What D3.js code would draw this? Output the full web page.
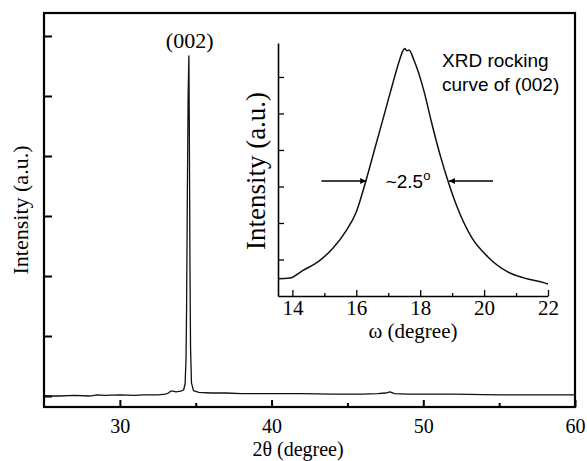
<!DOCTYPE html>
<html>
<head>
<meta charset="utf-8">
<script src="https://cdnjs.cloudflare.com/ajax/libs/d3/7.8.5/d3.min.js"></script>
<style>
    body { margin: 0; background: #fff; }
    svg text { fill: #000; }
</style>
</head>
<body>
<div id="chart"></div>
<script>
/*global d3*/
(function () {
    "use strict";

    var SERIF = "Liberation Serif",
        SANS = "Liberation Sans";

    // main XRD pattern: 2theta (degree), intensity (a.u.)
    var twoTheta = [25, 26, 27, 28, 28.5, 29, 30, 31, 31.5, 32, 32.5, 33, 33.2, 33.35, 33.5, 33.7, 34, 34.2,
        34.3, 34.36, 34.4, 34.45, 34.5, 34.55, 34.58, 34.62, 34.66, 34.72, 34.85, 35.2, 36, 37, 38, 40, 42,
        44, 46, 47, 47.5, 47.8, 48.1, 49, 52, 55, 58, 60];
    var intensity = [0, 0, 0.01, 0, 0.02, 0.01, 0.02, 0.01, 0.02, 0.02, 0.02, 0.03, 0.05, 0.08, 0.08, 0.07, 0.08, 0.1,
        0.2, 0.6, 1.5, 3.4, 5.0, 5.67, 4.4, 2.2, 0.8, 0.22, 0.09, 0.06, 0.05, 0.05, 0.04, 0.04, 0.04,
        0.03, 0.03, 0.04, 0.05, 0.07, 0.04, 0.03, 0.03, 0.02, 0.02, 0.02];
    var xMajor = [30, 40, 50, 60];
    var xMinor = [35, 45, 55];
    var yTicks = [0, 1, 2, 3, 4, 5, 6];

    // inset rocking curve: omega (degree), intensity (a.u.)
    var omega = [13.55, 13.92, 14.33, 14.85, 15.26, 15.69, 16.0, 16.3, 16.6, 16.9, 17.15, 17.35, 17.45,
        17.52, 17.58, 17.65, 17.8, 18.11, 18.36, 18.64, 18.88, 19.19, 19.6, 20.12, 20.74, 21.27, 21.89, 22];
    var rocking = [0.47, 0.49, 0.7, 0.97, 1.3, 1.8, 2.3, 3.15, 4.1, 5.05, 5.85, 6.45, 6.7,
        6.78, 6.72, 6.74, 6.47, 5.64, 4.74, 3.81, 3.12, 2.36, 1.62, 1.07, 0.66, 0.49, 0.36, 0.33];
    var wMajor = [14, 16, 18, 20, 22];
    var wMinor = [15, 17, 19, 21];
    var wTicks = [1, 2, 3, 4, 5, 6];
    var halfMax = 3.15;
    var fwhmLeft = [14.91, 16.31];
    var fwhmRight = [20.28, 18.9];

    var svg = d3.select("#chart").append("svg")
        .attr("width", 587)
        .attr("height", 461);

    svg.append("defs").append("marker")
        .attr("id", "arrow")
        .attr("viewBox", "0 0 10 10")
        .attr("refX", 10)
        .attr("refY", 5)
        .attr("markerWidth", 8)
        .attr("markerHeight", 6)
        .attr("markerUnits", "userSpaceOnUse")
        .attr("orient", "auto")
        .append("path")
        .attr("d", "M0,0L10,5L0,10Z")
        .attr("fill", "#000");

    // ---- main plot ----
    var x = d3.scaleLinear().domain([25, 60]).range([44, 575]);
    var y = d3.scaleLinear().domain([-0.183, 6.383]).range([407, 13]);

    function styleAxis(g, size) {
        g.selectAll(".tick line").attr("stroke", "#000").attr("stroke-width", 2);
        g.selectAll("text")
            .attr("fill", "#000")
            .attr("font-family", SERIF)
            .attr("font-size", size);
    }

    svg.append("g")
        .attr("transform", "translate(0,407)")
        .call(d3.axisBottom(x).tickValues(xMajor).tickSize(-7).tickPadding(12).tickSizeOuter(0))
        .call(function (g) {
            g.select(".domain").remove();
            styleAxis(g, 20);
        });

    svg.append("g")
        .attr("transform", "translate(0,407)")
        .call(d3.axisBottom(x).tickValues(xMinor).tickSize(-4).tickFormat("").tickSizeOuter(0))
        .call(function (g) {
            g.select(".domain").remove();
            styleAxis(g, 20);
        });

    svg.append("g")
        .attr("transform", "translate(44,0)")
        .call(d3.axisLeft(y).tickValues(yTicks).tickSize(-8).tickFormat("").tickSizeOuter(0))
        .call(function (g) {
            g.select(".domain").remove();
            styleAxis(g, 20);
        });

    var line = d3.line()
        .x(function (d) { return x(d[0]); })
        .y(function (d) { return y(d[1]); });

    svg.append("path")
        .datum(d3.zip(twoTheta, intensity))
        .attr("d", line)
        .attr("fill", "none")
        .attr("stroke", "#111")
        .attr("stroke-width", 1.3)
        .attr("stroke-linejoin", "round");

    svg.append("rect")
        .attr("x", 44)
        .attr("y", 13)
        .attr("width", 531)
        .attr("height", 394)
        .attr("fill", "none")
        .attr("stroke", "#000")
        .attr("stroke-width", 2.2);

    svg.append("text")
        .attr("font-family", SERIF)
        .attr("x", x(34.6))
        .attr("y", 48)
        .attr("text-anchor", "middle")
        .attr("font-size", 22)
        .text("(002)");

    svg.append("text")
        .attr("font-family", SERIF)
        .attr("x", 298)
        .attr("y", 456)
        .attr("text-anchor", "middle")
        .attr("font-size", 20)
        .text("2θ (degree)");

    svg.append("text")
        .attr("font-family", SERIF)
        .attr("transform", "translate(28,210) rotate(-90)")
        .attr("text-anchor", "middle")
        .attr("font-size", 22)
        .text("Intensity (a.u.)");

    // ---- inset ----
    var xi = d3.scaleLinear().domain([13.55, 22]).range([278, 548]);
    var yi = d3.scaleLinear().domain([0, 6.93]).range([296, 43]);

    function styleInset(g) {
        g.select(".domain").attr("stroke", "#000").attr("stroke-width", 1.6);
        g.selectAll(".tick line").attr("stroke", "#000").attr("stroke-width", 1.3);
        g.selectAll("text")
            .attr("fill", "#000")
            .attr("font-family", SERIF)
            .attr("font-size", 21);
    }

    svg.append("g")
        .attr("transform", "translate(0,296)")
        .call(d3.axisBottom(xi).tickValues(wMajor).tickSize(-6).tickPadding(4).tickSizeOuter(0))
        .call(styleInset);

    svg.append("g")
        .attr("transform", "translate(0,296)")
        .call(d3.axisBottom(xi).tickValues(wMinor).tickSize(-3).tickFormat("").tickSizeOuter(0))
        .call(function (g) {
            g.select(".domain").remove();
            styleInset(g);
        });

    svg.append("g")
        .attr("transform", "translate(278,0)")
        .call(d3.axisLeft(yi).tickValues(wTicks).tickSize(-6).tickFormat("").tickSizeOuter(0))
        .call(styleInset);

    var lineInset = d3.line()
        .x(function (d) { return xi(d[0]); })
        .y(function (d) { return yi(d[1]); })
        .curve(d3.curveMonotoneX);

    svg.append("path")
        .datum(d3.zip(omega, rocking))
        .attr("d", lineInset)
        .attr("fill", "none")
        .attr("stroke", "#111")
        .attr("stroke-width", 1.5)
        .attr("stroke-linejoin", "round");

    [fwhmLeft, fwhmRight].forEach(function (a) {
        svg.append("line")
            .attr("x1", xi(a[0]))
            .attr("x2", xi(a[1]))
            .attr("y1", yi(halfMax))
            .attr("y2", yi(halfMax))
            .attr("stroke", "#000")
            .attr("stroke-width", 1.4)
            .attr("marker-end", "url(#arrow)");
    });

    var fw = svg.append("text")
        .attr("font-family", SANS)
        .attr("x", xi(17.62))
        .attr("y", 188)
        .attr("text-anchor", "middle")
        .attr("font-size", 19);
    fw.append("tspan").text("~2.5");
    fw.append("tspan").attr("font-size", 13).attr("dy", -8).text("o");

    svg.append("text")
        .attr("font-family", SANS)
        .attr("x", 442)
        .attr("y", 67)
        .attr("font-size", 19)
        .text("XRD rocking");
    svg.append("text")
        .attr("font-family", SANS)
        .attr("x", 442)
        .attr("y", 91)
        .attr("font-size", 19)
        .text("curve of (002)");

    svg.append("text")
        .attr("font-family", SERIF)
        .attr("x", 413)
        .attr("y", 338)
        .attr("text-anchor", "middle")
        .attr("font-size", 21)
        .text("ω (degree)");

    svg.append("text")
        .attr("font-family", SERIF)
        .attr("transform", "translate(265,171) rotate(-90)")
        .attr("text-anchor", "middle")
        .attr("font-size", 27)
        .text("Intensity (a.u.)");
}());
</script>
</body>
</html>
